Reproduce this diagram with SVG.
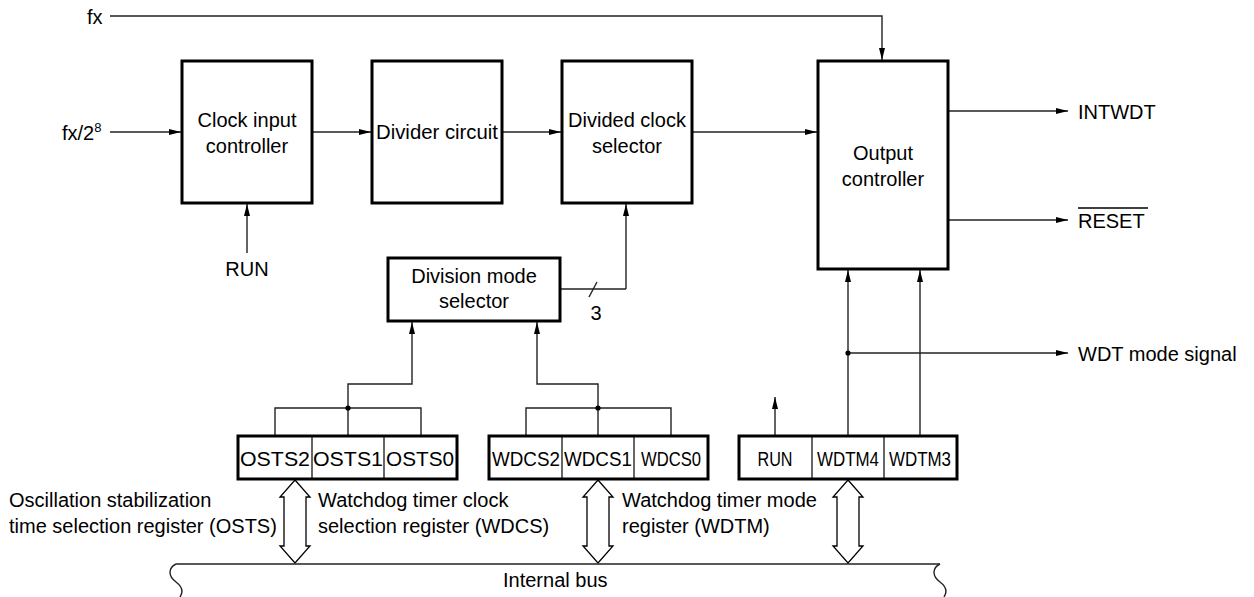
<svg xmlns="http://www.w3.org/2000/svg" width="1254" height="597" viewBox="0 0 1254 597">
<defs>
<marker id="ah" viewBox="0 0 12 8" refX="12" refY="4" markerWidth="12" markerHeight="8" markerUnits="userSpaceOnUse" orient="auto">
<path d="M0,1 L12,4 L0,7 Z" fill="#000"/>
</marker>
<style>
text{font-family:"Liberation Sans",Arial,sans-serif;font-size:20px;fill:#000}
.c{text-anchor:middle}
.box{fill:#fff;stroke:#000;stroke-width:3}
.ln{fill:none;stroke:#222;stroke-width:1.4}
.ar{fill:none;stroke:#222;stroke-width:1.4;marker-end:url(#ah)}
.dv{stroke:#000;stroke-width:1.2}
.ba{fill:#fff;stroke:#000;stroke-width:1.3}
</style>
</defs>
<rect width="1254" height="597" fill="#fff"/>

<g id="connectors">
<path class="ar" d="M110,16 H882 V60"/>
<path class="ar" d="M110,132 H181"/>
<path class="ar" d="M312,132 H371"/>
<path class="ar" d="M502,132 H561"/>
<path class="ar" d="M692,132 H817"/>
<path class="ar" d="M948,111 H1068"/>
<path class="ar" d="M948,220 H1068"/>
<path class="ar" d="M848,353 H1068"/>
<path class="ar" d="M247,253 V204"/>
<path class="ln" d="M560,289 H626"/>
<path class="ar" d="M626,289 V204"/>
<path class="ln" d="M589,297 L597,282"/>
<path class="ar" d="M848,435 V270"/>
<path class="ar" d="M920,435 V270"/>
<path class="ar" d="M775,435 V397"/>
<path class="ar" d="M348,408 V384 H412 V322"/>
<path class="ln" d="M275,435 V408 H421 V435 M348,408 V435"/>
<path class="ar" d="M598,408 V384 H537 V322"/>
<path class="ln" d="M526,435 V408 H671 V435 M598,408 V435"/>
<circle cx="348" cy="408" r="2.6" fill="#000"/>
<circle cx="598" cy="408" r="2.6" fill="#000"/>
<circle cx="848" cy="353" r="2.6" fill="#000"/>
<polygon class="ba" points="295,480 310,497 306,497 306,546 310,546 295,563 280,546 284,546 284,497 280,497"/>
<polygon class="ba" points="598,480 613,497 609,497 609,546 613,546 598,563 583,546 587,546 587,497 583,497"/>
<polygon class="ba" points="848,480 863,497 859,497 859,546 863,546 848,563 833,546 837,546 837,497 833,497"/>
</g>

<g id="bus">
<path class="ln" d="M176,564 H940"/>
<path class="ln" d="M176,564 C168,568 168,576 176,582 C184,588 182,594 180,597"/>
<path class="ln" d="M940,564 C932,568 932,576 940,582 C948,588 946,594 944,597"/>
<text x="503" y="587">Internal bus</text>
</g>

<g id="inputs">
<text x="87" y="24">fx</text>
<text x="62" y="140">fx/2<tspan font-size="13" dy="-8">8</tspan></text>
<text class="c" x="247" y="276">RUN</text>
<text class="c" x="596" y="320">3</text>
</g>

<g id="clock-input-controller">
<rect class="box" x="182" y="61" width="130" height="142"/>
<text class="c" x="247" y="127">Clock input</text>
<text class="c" x="247" y="153">controller</text>
</g>

<g id="divider-circuit">
<rect class="box" x="372" y="61" width="130" height="142"/>
<text class="c" x="437" y="139" textLength="122" lengthAdjust="spacingAndGlyphs">Divider circuit</text>
</g>

<g id="divided-clock-selector">
<rect class="box" x="562" y="61" width="130" height="142"/>
<text class="c" x="627" y="127">Divided clock</text>
<text class="c" x="627" y="153">selector</text>
</g>

<g id="output-controller">
<rect class="box" x="818" y="61" width="130" height="208"/>
<text class="c" x="883" y="160">Output</text>
<text class="c" x="883" y="186">controller</text>
</g>

<g id="outputs">
<text x="1078" y="119">INTWDT</text>
<text x="1078" y="228">RESET</text>
<path d="M1078,208 H1148" stroke="#000" stroke-width="1.3"/>
<text x="1078" y="361">WDT mode signal</text>
</g>

<g id="division-mode-selector">
<rect class="box" x="388" y="258" width="172" height="63"/>
<text class="c" x="474" y="283">Division mode</text>
<text class="c" x="474" y="308">selector</text>
</g>

<g id="osts">
<rect class="box" x="238" y="436" width="219" height="43"/>
<line class="dv" x1="312" y1="436" x2="312" y2="479"/>
<line class="dv" x1="384" y1="436" x2="384" y2="479"/>
<text class="c" x="275" y="466" textLength="70" lengthAdjust="spacingAndGlyphs">OSTS2</text>
<text class="c" x="348" y="466" textLength="70" lengthAdjust="spacingAndGlyphs">OSTS1</text>
<text class="c" x="420" y="466" textLength="68" lengthAdjust="spacingAndGlyphs">OSTS0</text>
<text x="9" y="507">Oscillation stabilization</text>
<text x="9" y="533">time selection register (OSTS)</text>
</g>

<g id="wdcs">
<rect class="box" x="489" y="436" width="219" height="43"/>
<line class="dv" x1="562" y1="436" x2="562" y2="479"/>
<line class="dv" x1="634" y1="436" x2="634" y2="479"/>
<text class="c" x="526" y="466" textLength="68" lengthAdjust="spacingAndGlyphs">WDCS2</text>
<text class="c" x="598" y="466" textLength="68" lengthAdjust="spacingAndGlyphs">WDCS1</text>
<text class="c" x="671" y="466" textLength="60" lengthAdjust="spacingAndGlyphs">WDCS0</text>
<text x="318" y="507">Watchdog timer clock</text>
<text x="318" y="533">selection register (WDCS)</text>
</g>

<g id="wdtm">
<rect class="box" x="739" y="436" width="218" height="43"/>
<line class="dv" x1="812" y1="436" x2="812" y2="479"/>
<line class="dv" x1="884" y1="436" x2="884" y2="479"/>
<text class="c" x="775" y="466" textLength="35" lengthAdjust="spacingAndGlyphs">RUN</text>
<text class="c" x="848" y="466" textLength="62" lengthAdjust="spacingAndGlyphs">WDTM4</text>
<text class="c" x="920" y="466" textLength="62" lengthAdjust="spacingAndGlyphs">WDTM3</text>
<text x="622" y="507">Watchdog timer mode</text>
<text x="622" y="533">register (WDTM)</text>
</g>
</svg>
